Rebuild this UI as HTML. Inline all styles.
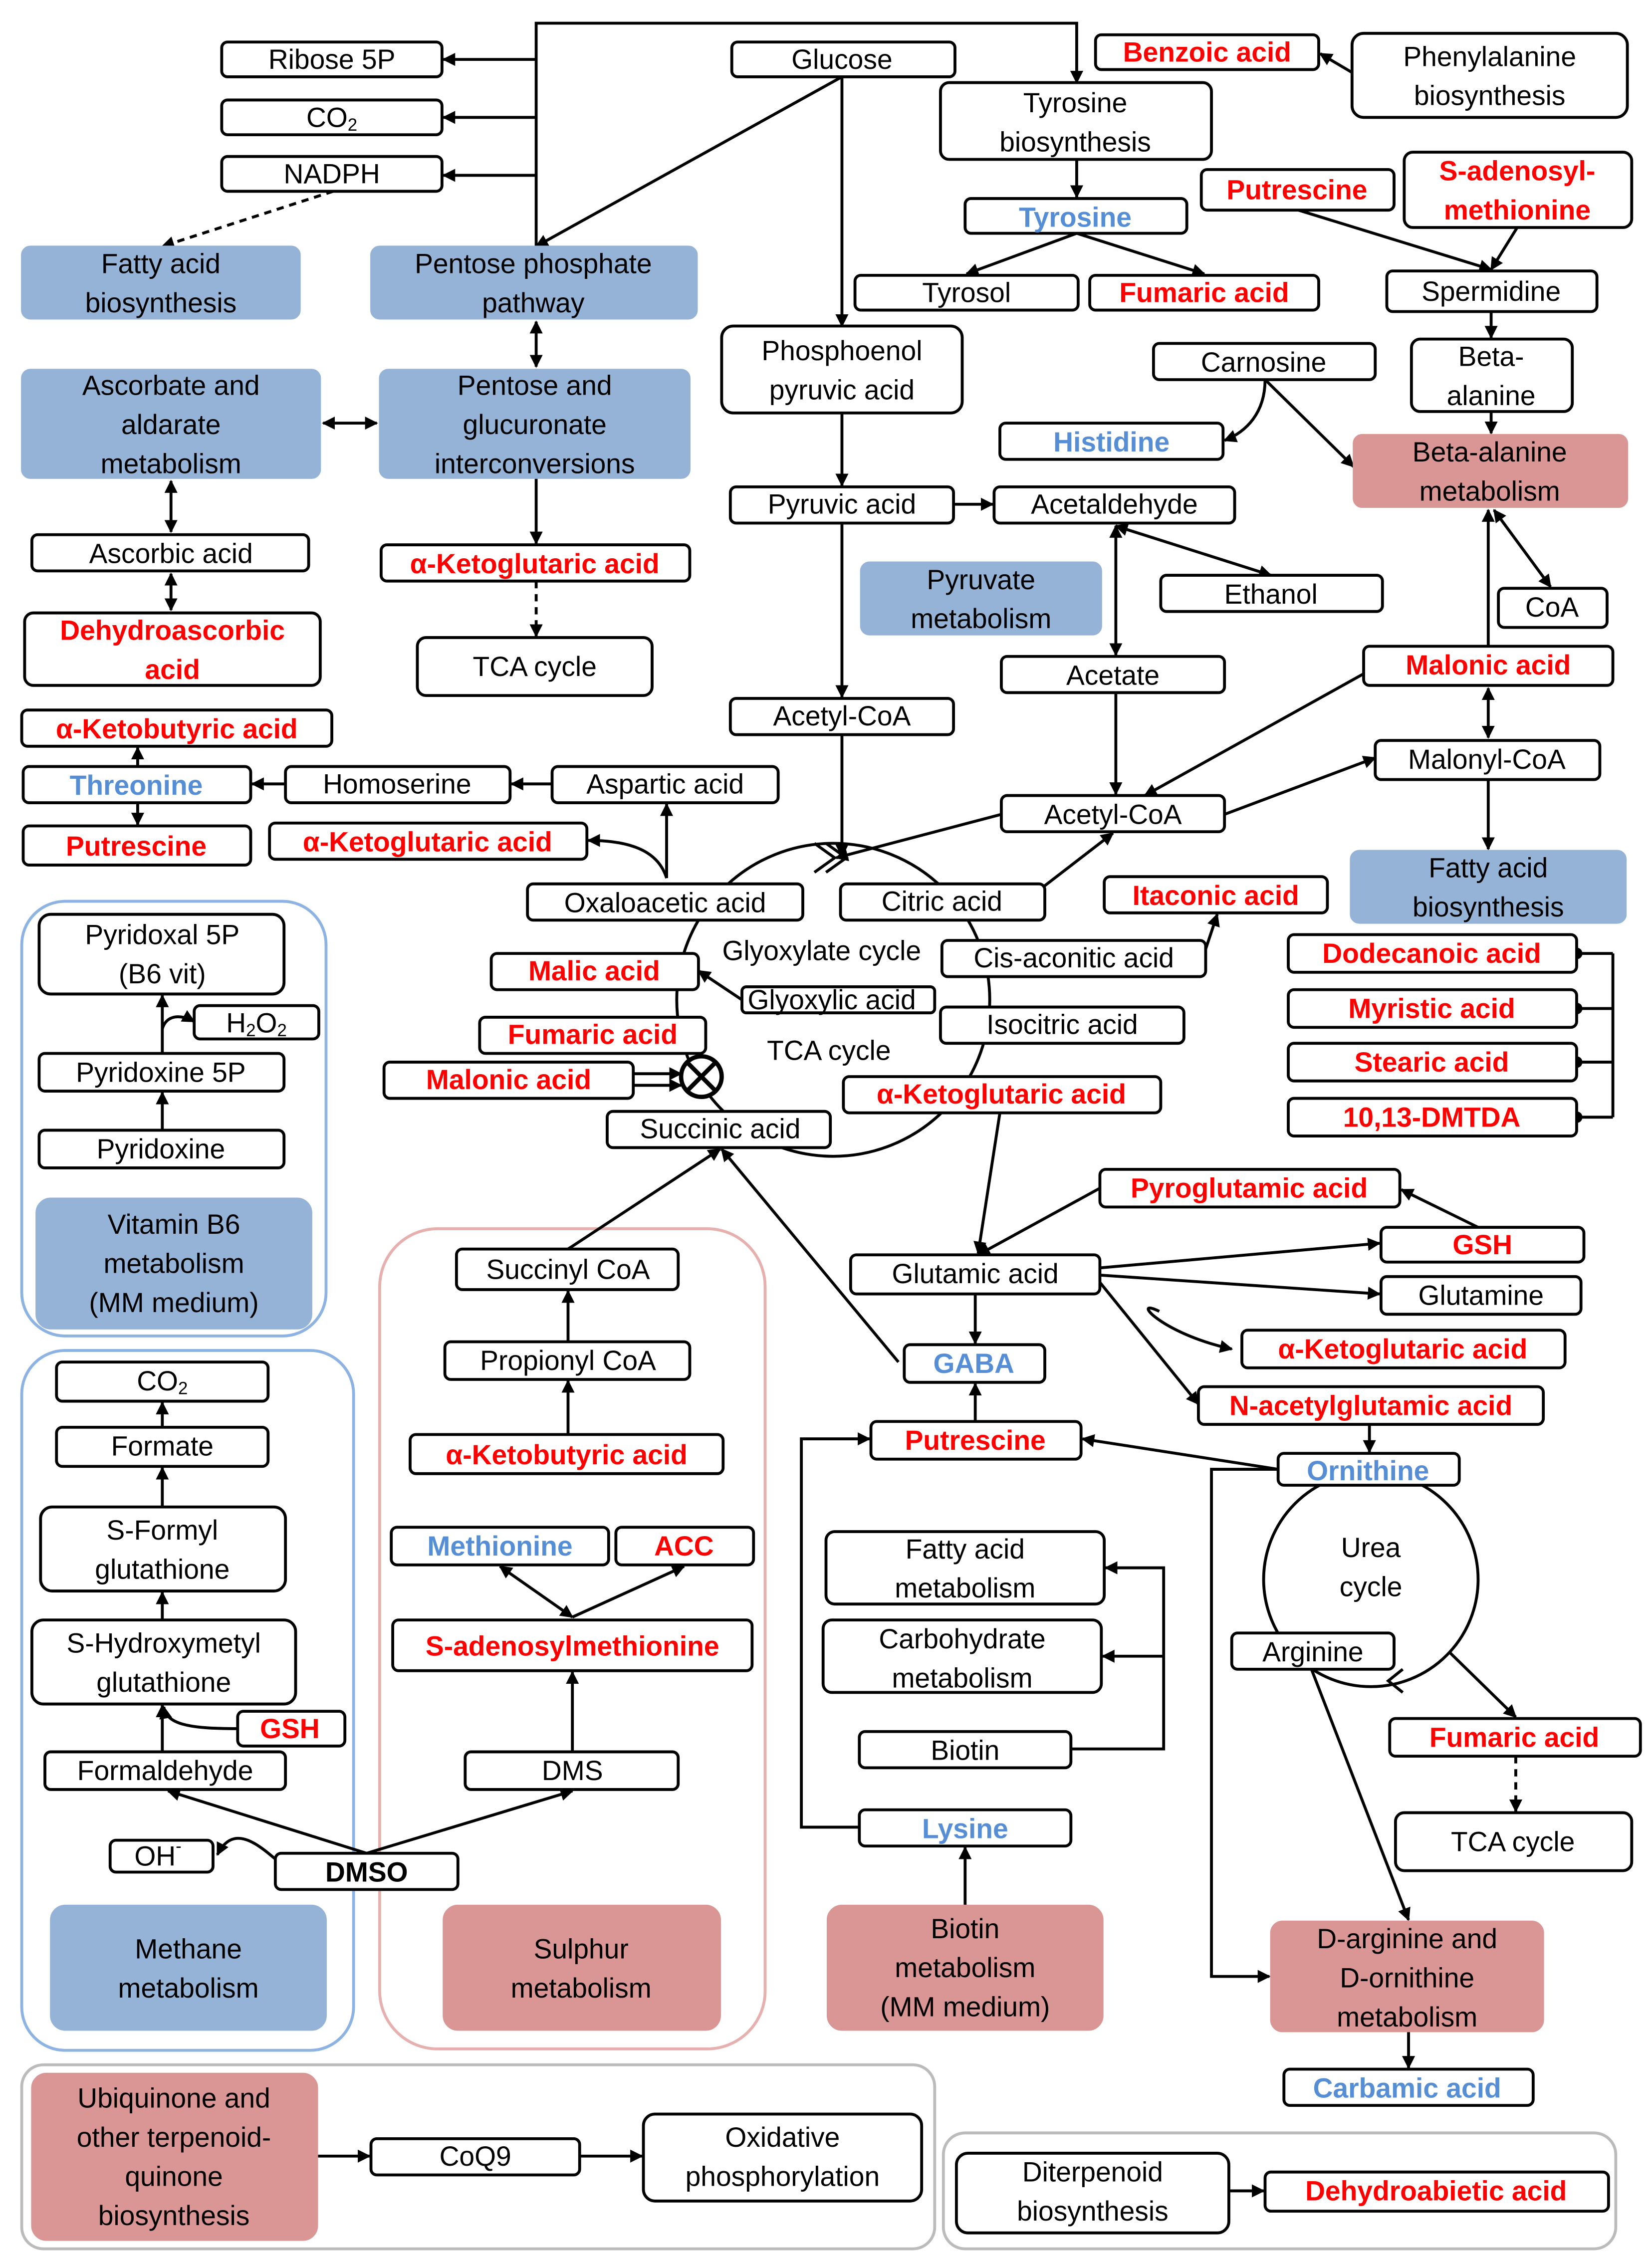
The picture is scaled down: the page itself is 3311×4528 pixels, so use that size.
<!DOCTYPE html>
<html><head><meta charset="utf-8"><style>
html,body{margin:0;padding:0;background:#fff}
svg{display:block}
text{font-family:"Liberation Sans",sans-serif;font-size:19px;text-anchor:middle;dominant-baseline:central}
.r{fill:#f00;font-weight:bold}
.b{fill:#558ed5;font-weight:bold}
.bx{fill:#fff;stroke:#000;stroke-width:2}
.bl{fill:#95b3d7;stroke:#95b3d7}
.pk{fill:#d99694;stroke:#d99694}
.ln{stroke:#000;stroke-width:2;fill:none}
</style></head><body>
<svg width="3311" height="4528" viewBox="0 0 1140 1559" xmlns="http://www.w3.org/2000/svg">
<defs>
<marker id="a" viewBox="0 0 10 10" refX="9" refY="5" markerWidth="4.5" markerHeight="4.5" orient="auto-start-reverse"><path d="M0,0L10,5L0,10z" fill="#000"/></marker>
</defs>
<!-- group frames -->
<rect x="15" y="622" width="210" height="300" rx="30" fill="none" stroke="#8db3e2" stroke-width="2"/>
<rect x="15" y="932" width="229" height="483" rx="30" fill="none" stroke="#8db3e2" stroke-width="2"/>
<rect x="262" y="848" width="266" height="566" rx="40" fill="none" stroke="#e6b0ae" stroke-width="2"/>
<rect x="15" y="1425" width="630" height="127" rx="15" fill="none" stroke="#bbb" stroke-width="2"/>
<rect x="651" y="1472" width="464" height="80" rx="15" fill="none" stroke="#bbb" stroke-width="2"/>
<!-- cycles -->
<circle cx="575" cy="690" r="108" class="ln"/>
<circle cx="946" cy="1090" r="74" class="ln"/>
<g class="ln" marker-end="url(#a)">
<path d="M370,170V16H743V57"/>
<path d="M370,41H306"/><path d="M370,81H306"/><path d="M370,121H306"/>
<path d="M581,53L370,170" marker-end=""/>
<path d="M230,132L112,170" stroke-dasharray="5,4"/>
<path d="M581,53V225"/>
<path d="M370,222V253" marker-start="url(#a)"/>
<path d="M223,292H260" marker-start="url(#a)"/>
<path d="M118,332V367" marker-start="url(#a)"/>
<path d="M118,396V421" marker-start="url(#a)"/>
<path d="M370,330V375"/>
<path d="M370,401V439" stroke-dasharray="5,4"/>
<path d="M743,110V136"/>
<path d="M743,161L667,189"/><path d="M743,161L831,189"/>
<path d="M933,50L911,37"/>
<path d="M896,145L1029,186"/><path d="M1047,157L1029,186"/>
<path d="M1029,215V233"/><path d="M1029,284V299"/>
<path d="M873,262C873,285 860,298 845,304"/>
<path d="M873,262L934,322"/>
<path d="M581,285V335"/><path d="M658,348H685"/>
<path d="M581,361V481"/>
<path d="M770,363L877,397" marker-start="url(#a)"/>
<path d="M770,363V452" marker-start="url(#a)"/>
<path d="M770,478V548"/>
<path d="M581,507V591"/><path d="M691,562L577,592"/>
<path d="M941,465L790,549" marker-end=""/>
<path d="M845,562L949,523"/>
<path d="M1027,475V509" marker-start="url(#a)"/>
<path d="M1027,446V352"/>
<path d="M1031,352L1070,405" marker-start="url(#a)"/>
<path d="M1027,538V586"/>
<path d="M720,612L768,575"/>
<path d="M832,655L840,631"/>
<path d="M460,606V555"/>
<path d="M460,606C455,590 440,580 406,580"/>
<path d="M381,541H353"/><path d="M197,541H174"/>
<path d="M95,529V516"/><path d="M95,554V569"/>
<path d="M512,690L482,670"/>
<path d="M690,768L675,865"/>
<path d="M759,820L675,866" marker-end=""/>
<path d="M1020,847L967,821"/>
<path d="M759,875L952,858"/><path d="M759,880L952,893"/>
<path d="M759,885L827,969"/>
<path d="M800,905C780,895 800,920 850,931"/>
<path d="M945,983V1002"/>
<path d="M673,893V927"/>
<path d="M620,940L498,793"/>
<path d="M392,862L497,793"/>
<path d="M673,981V955"/>
<path d="M882,1014L747,993"/>
<path d="M882,1014H836V1364H876"/>
<path d="M905,1152L972,1325"/>
<path d="M1000,1140L1046,1185"/>
<path d="M1046,1212V1250" stroke-dasharray="5,4"/>
<path d="M972,1402V1427"/>
<path d="M593,1261H553V993H600"/>
<path d="M739,1207H803V1082H763"/><path d="M803,1143H761"/>
<path d="M666,1315V1275"/>
<path d="M392,926V891"/><path d="M392,990V953"/>
<path d="M395,1116L345,1081" marker-start="url(#a)"/>
<path d="M395,1116L472,1081"/>
<path d="M395,1209V1154"/>
<path d="M253,1279L395,1236"/><path d="M253,1279L116,1236"/>
<path d="M190,1283C175,1270 160,1260 150,1280"/>
<path d="M112,1209V1177"/>
<path d="M164,1193C130,1193 115,1190 113,1178"/>
<path d="M112,1118V1099"/><path d="M112,1040V1013"/><path d="M112,985V968"/>
<path d="M112,780V754"/><path d="M112,727V687"/>
<path d="M112,710C115,700 125,700 134,705"/>
<path d="M219,1488H255"/><path d="M400,1488H443"/>
<path d="M848,1512H872"/>
<path d="M437,741H470"/><path d="M437,749H470"/>
</g>
<path d="M562,582L576,592L562,602M570,582L584,592L570,602" class="ln"/>
<path d="M968,1152L958,1160L968,1168" class="ln"/>
<path d="M1113,658V771" class="ln"/>
<g fill="#000"><circle cx="1088" cy="658" r="4"/><circle cx="1088" cy="696" r="4"/><circle cx="1088" cy="733" r="4"/><circle cx="1088" cy="771" r="4"/></g>
<g class="ln"><path d="M1088,658H1113M1088,696H1113M1088,733H1113M1088,771H1113"/></g>
<circle cx="484" cy="743" r="14" fill="#fff" stroke="#000" stroke-width="3"/>
<path d="M474,733L494,753M494,733L474,753" stroke="#000" stroke-width="3"/>
<!-- colored boxes -->
<g>
<rect class="bl" x="15" y="170" width="192" height="50" rx="6"/>
<rect class="bl" x="256" y="170" width="225" height="50" rx="6"/>
<rect class="bl" x="15" y="255" width="206" height="75" rx="6"/>
<rect class="bl" x="262" y="255" width="214" height="75" rx="6"/>
<rect class="bl" x="594" y="388" width="166" height="50" rx="6"/>
<rect class="bl" x="932" y="587" width="190" height="50" rx="6"/>
<rect class="bl" x="25" y="827" width="190" height="90" rx="10"/>
<rect class="bl" x="35" y="1315" width="190" height="86" rx="10"/>
<rect class="pk" x="934" y="300" width="189" height="50" rx="6"/>
<rect class="pk" x="877" y="1326" width="188" height="76" rx="8"/>
<rect class="pk" x="571" y="1315" width="190" height="86" rx="10"/>
<rect class="pk" x="306" y="1315" width="191" height="86" rx="10"/>
<rect class="pk" x="22" y="1431" width="197" height="115" rx="10"/>
</g>
<!-- white boxes -->
<g class="bx">
<rect x="153" y="29" width="152" height="24" rx="4"/>
<rect x="153" y="69" width="152" height="24" rx="4"/>
<rect x="153" y="108" width="152" height="24" rx="4"/>
<rect x="22" y="369" width="191" height="25" rx="4"/>
<rect x="17" y="423" width="204" height="50" rx="6"/>
<rect x="263" y="376" width="213" height="25" rx="4"/>
<rect x="288" y="440" width="162" height="40" rx="6"/>
<rect x="15" y="490" width="214" height="25" rx="4"/>
<rect x="16" y="529" width="157" height="25" rx="4"/>
<rect x="197" y="529" width="155" height="25" rx="4"/>
<rect x="381" y="529" width="156" height="25" rx="4"/>
<rect x="16" y="570" width="157" height="27" rx="4"/>
<rect x="186" y="568" width="219" height="25" rx="4"/>
<rect x="364" y="610" width="190" height="25" rx="4"/>
<rect x="580" y="610" width="141" height="25" rx="4"/>
<rect x="762" y="605" width="154" height="25" rx="4"/>
<rect x="505" y="29" width="154" height="24" rx="4"/>
<rect x="649" y="57" width="187" height="53" rx="6"/>
<rect x="756" y="24" width="154" height="24" rx="4"/>
<rect x="933" y="23" width="190" height="58" rx="8"/>
<rect x="666" y="137" width="153" height="24" rx="4"/>
<rect x="590" y="190" width="154" height="24" rx="4"/>
<rect x="752" y="190" width="158" height="24" rx="4"/>
<rect x="829" y="117" width="133" height="28" rx="4"/>
<rect x="969" y="105" width="157" height="52" rx="6"/>
<rect x="957" y="187" width="145" height="28" rx="4"/>
<rect x="498" y="225" width="166" height="60" rx="8"/>
<rect x="796" y="237" width="153" height="25" rx="4"/>
<rect x="974" y="234" width="111" height="50" rx="6"/>
<rect x="690" y="292" width="154" height="25" rx="4"/>
<rect x="504" y="336" width="154" height="25" rx="4"/>
<rect x="686" y="336" width="166" height="25" rx="4"/>
<rect x="801" y="397" width="153" height="25" rx="4"/>
<rect x="1034" y="406" width="75" height="27" rx="4"/>
<rect x="691" y="453" width="154" height="25" rx="4"/>
<rect x="941" y="446" width="172" height="27" rx="4"/>
<rect x="504" y="482" width="154" height="25" rx="4"/>
<rect x="949" y="511" width="155" height="27" rx="4"/>
<rect x="691" y="549" width="154" height="25" rx="4"/>
<rect x="889" y="645" width="199" height="26" rx="4"/>
<rect x="889" y="683" width="199" height="26" rx="4"/>
<rect x="889" y="720" width="199" height="26" rx="4"/>
<rect x="889" y="758" width="199" height="26" rx="4"/>
<rect x="650" y="649" width="182" height="25" rx="4"/>
<rect x="512" y="681" width="133" height="18" rx="3"/>
<rect x="649" y="695" width="168" height="25" rx="4"/>
<rect x="339" y="658" width="143" height="25" rx="4"/>
<rect x="331" y="702" width="156" height="25" rx="4"/>
<rect x="265" y="733" width="172" height="25" rx="4"/>
<rect x="419" y="767" width="154" height="25" rx="4"/>
<rect x="582" y="743" width="219" height="25" rx="4"/>
<rect x="759" y="807" width="207" height="26" rx="4"/>
<rect x="953" y="847" width="140" height="24" rx="4"/>
<rect x="587" y="866" width="172" height="27" rx="4"/>
<rect x="953" y="881" width="138" height="26" rx="4"/>
<rect x="624" y="928" width="97" height="26" rx="4"/>
<rect x="857" y="918" width="223" height="26" rx="4"/>
<rect x="827" y="957" width="238" height="26" rx="4"/>
<rect x="601" y="981" width="145" height="26" rx="4"/>
<rect x="882" y="1003" width="125" height="22" rx="4"/>
<rect x="850" y="1127" width="112" height="25" rx="4"/>
<rect x="959" y="1186" width="173" height="26" rx="4"/>
<rect x="963" y="1251" width="163" height="40" rx="6"/>
<rect x="886" y="1428" width="172" height="25" rx="4"/>
<rect x="570" y="1057" width="192" height="50" rx="6"/>
<rect x="568" y="1118" width="192" height="50" rx="6"/>
<rect x="593" y="1195" width="146" height="25" rx="4"/>
<rect x="593" y="1249" width="146" height="25" rx="4"/>
<rect x="315" y="862" width="153" height="28" rx="4"/>
<rect x="307" y="926" width="169" height="26" rx="4"/>
<rect x="283" y="990" width="216" height="27" rx="4"/>
<rect x="270" y="1054" width="150" height="26" rx="4"/>
<rect x="425" y="1054" width="95" height="26" rx="4"/>
<rect x="271" y="1118" width="248" height="35" rx="4"/>
<rect x="321" y="1209" width="147" height="26" rx="4"/>
<rect x="190" y="1279" width="126" height="25" rx="4"/>
<rect x="27" y="631" width="169" height="55" rx="8"/>
<rect x="134" y="694" width="86" height="23" rx="4"/>
<rect x="27" y="727" width="169" height="26" rx="4"/>
<rect x="27" y="780" width="169" height="26" rx="4"/>
<rect x="39" y="940" width="146" height="27" rx="4"/>
<rect x="39" y="985" width="146" height="27" rx="4"/>
<rect x="28" y="1040" width="169" height="58" rx="8"/>
<rect x="22" y="1118" width="182" height="58" rx="8"/>
<rect x="164" y="1181" width="74" height="24" rx="4"/>
<rect x="31" y="1209" width="166" height="26" rx="4"/>
<rect x="76" y="1270" width="71" height="22" rx="4"/>
<rect x="256" y="1476" width="144" height="25" rx="4"/>
<rect x="444" y="1459" width="192" height="60" rx="8"/>
<rect x="660" y="1486" width="188" height="55" rx="8"/>
<rect x="873" y="1499" width="237" height="27" rx="4"/>
</g>
<!-- text -->
<g>
<text x="229" y="41">Ribose 5P</text>
<text x="229" y="81">CO<tspan font-size="12" dy="5">2</tspan></text>
<text x="229" y="120">NADPH</text>
<text x="111" y="182">Fatty acid</text><text x="111" y="209">biosynthesis</text>
<text x="368" y="182">Pentose phosphate</text><text x="368" y="209">pathway</text>
<text x="118" y="266">Ascorbate and</text><text x="118" y="293">aldarate</text><text x="118" y="320">metabolism</text>
<text x="369" y="266">Pentose and</text><text x="369" y="293">glucuronate</text><text x="369" y="320">interconversions</text>
<text x="118" y="382">Ascorbic acid</text>
<text class="r" x="119" y="435">Dehydroascorbic</text><text class="r" x="119" y="462">acid</text>
<text class="r" x="369" y="389">α-Ketoglutaric acid</text>
<text x="369" y="460">TCA cycle</text>
<text class="r" x="122" y="503">α-Ketobutyric acid</text>
<text class="b" x="94" y="542">Threonine</text>
<text x="274" y="541">Homoserine</text>
<text x="459" y="541">Aspartic acid</text>
<text class="r" x="94" y="584">Putrescine</text>
<text class="r" x="295" y="581">α-Ketoglutaric acid</text>
<text x="459" y="623">Oxaloacetic acid</text>
<text x="650" y="622">Citric acid</text>
<text class="r" x="839" y="618">Itaconic acid</text>
<text x="581" y="41">Glucose</text>
<text x="742" y="71">Tyrosine</text><text x="742" y="98">biosynthesis</text>
<text class="r" x="833" y="36">Benzoic acid</text>
<text x="1028" y="39">Phenylalanine</text><text x="1028" y="66">biosynthesis</text>
<text class="b" x="742" y="150">Tyrosine</text>
<text x="667" y="202">Tyrosol</text>
<text class="r" x="831" y="202">Fumaric acid</text>
<text class="r" x="895" y="131">Putrescine</text>
<text class="r" x="1047" y="118">S-adenosyl-</text><text class="r" x="1047" y="145">methionine</text>
<text x="1029" y="201">Spermidine</text>
<text x="581" y="242">Phosphoenol</text><text x="581" y="269">pyruvic acid</text>
<text x="872" y="250">Carnosine</text>
<text x="1029" y="246">Beta-</text><text x="1029" y="273">alanine</text>
<text class="b" x="767" y="305">Histidine</text>
<text x="1028" y="312">Beta-alanine</text><text x="1028" y="339">metabolism</text>
<text x="581" y="348">Pyruvic acid</text>
<text x="769" y="348">Acetaldehyde</text>
<text x="677" y="400">Pyruvate</text><text x="677" y="427">metabolism</text>
<text x="877" y="410">Ethanol</text>
<text x="1071" y="419">CoA</text>
<text x="768" y="466">Acetate</text>
<text class="r" x="1027" y="459">Malonic acid</text>
<text x="581" y="494">Acetyl-CoA</text>
<text x="1026" y="524">Malonyl-CoA</text>
<text x="768" y="562">Acetyl-CoA</text>
<text x="1027" y="599">Fatty acid</text><text x="1027" y="626">biosynthesis</text>
<text class="r" x="988" y="658">Dodecanoic acid</text>
<text class="r" x="988" y="696">Myristic acid</text>
<text class="r" x="988" y="733">Stearic acid</text>
<text class="r" x="988" y="771">10,13-DMTDA</text>
<text x="741" y="661">Cis-aconitic acid</text>
<text x="574" y="690" font-size="13">Glyoxylic acid</text>
<text x="733" y="707">Isocitric acid</text>
<text class="r" x="410" y="670">Malic acid</text>
<text class="r" x="409" y="714">Fumaric acid</text>
<text class="r" x="351" y="745">Malonic acid</text>
<text x="497" y="779">Succinic acid</text>
<text class="r" x="691" y="755">α-Ketoglutaric acid</text>
<text x="567" y="656">Glyoxylate cycle</text>
<text x="572" y="725">TCA cycle</text>
<text class="r" x="862" y="820">Pyroglutamic acid</text>
<text class="r" x="1023" y="859">GSH</text>
<text x="673" y="879">Glutamic acid</text>
<text x="1022" y="894">Glutamine</text>
<text class="b" x="672" y="941">GABA</text>
<text class="r" x="968" y="931">α-Ketoglutaric acid</text>
<text class="r" x="946" y="970">N-acetylglutamic acid</text>
<text class="r" x="673" y="994">Putrescine</text>
<text class="b" x="944" y="1015">Ornithine</text>
<text x="946" y="1068">Urea</text><text x="946" y="1095">cycle</text>
<text x="906" y="1140">Arginine</text>
<text class="r" x="1045" y="1199">Fumaric acid</text>
<text x="1044" y="1271">TCA cycle</text>
<text x="971" y="1338">D-arginine and</text><text x="971" y="1365">D-ornithine</text><text x="971" y="1392">metabolism</text>
<text class="b" x="971" y="1441">Carbamic acid</text>
<text x="666" y="1069">Fatty acid</text><text x="666" y="1096">metabolism</text>
<text x="664" y="1131">Carbohydrate</text><text x="664" y="1158">metabolism</text>
<text x="666" y="1208">Biotin</text>
<text class="b" x="666" y="1262">Lysine</text>
<text x="666" y="1331">Biotin</text><text x="666" y="1358">metabolism</text><text x="666" y="1385">(MM medium)</text>
<text x="392" y="876">Succinyl CoA</text>
<text x="392" y="939">Propionyl CoA</text>
<text class="r" x="391" y="1004">α-Ketobutyric acid</text>
<text class="b" x="345" y="1067">Methionine</text>
<text class="r" x="472" y="1067">ACC</text>
<text class="r" x="395" y="1136">S-adenosylmethionine</text>
<text x="395" y="1222">DMS</text>
<text x="253" y="1292" font-weight="bold">DMSO</text>
<text x="401" y="1345">Sulphur</text><text x="401" y="1372">metabolism</text>
<text x="112" y="645">Pyridoxal  5P</text><text x="112" y="672">(B6 vit)</text>
<text x="177" y="706">H<tspan font-size="12" dy="5">2</tspan><tspan dy="-5">O</tspan><tspan font-size="12" dy="5">2</tspan></text>
<text x="111" y="740">Pyridoxine 5P</text>
<text x="111" y="793">Pyridoxine</text>
<text x="120" y="845">Vitamin B6</text><text x="120" y="872">metabolism</text><text x="120" y="899">(MM medium)</text>
<text x="112" y="953">CO<tspan font-size="12" dy="5">2</tspan></text>
<text x="112" y="998">Formate</text>
<text x="112" y="1056">S-Formyl</text><text x="112" y="1083">glutathione</text>
<text x="113" y="1134">S-Hydroxymetyl</text><text x="113" y="1161">glutathione</text>
<text class="r" x="200" y="1193">GSH</text>
<text x="114" y="1222">Formaldehyde</text>
<text x="109" y="1281">OH<tspan font-size="12" dy="-7">-</tspan></text>
<text x="130" y="1345">Methane</text><text x="130" y="1372">metabolism</text>
<text x="120" y="1448">Ubiquinone and</text><text x="120" y="1475">other terpenoid-</text><text x="120" y="1502">quinone</text><text x="120" y="1529">biosynthesis</text>
<text x="328" y="1488">CoQ9</text>
<text x="540" y="1475">Oxidative</text><text x="540" y="1502">phosphorylation</text>
<text x="754" y="1499">Diterpenoid</text><text x="754" y="1526">biosynthesis</text>
<text class="r" x="991" y="1512">Dehydroabietic acid</text>
</g>
</svg>
</body></html>
